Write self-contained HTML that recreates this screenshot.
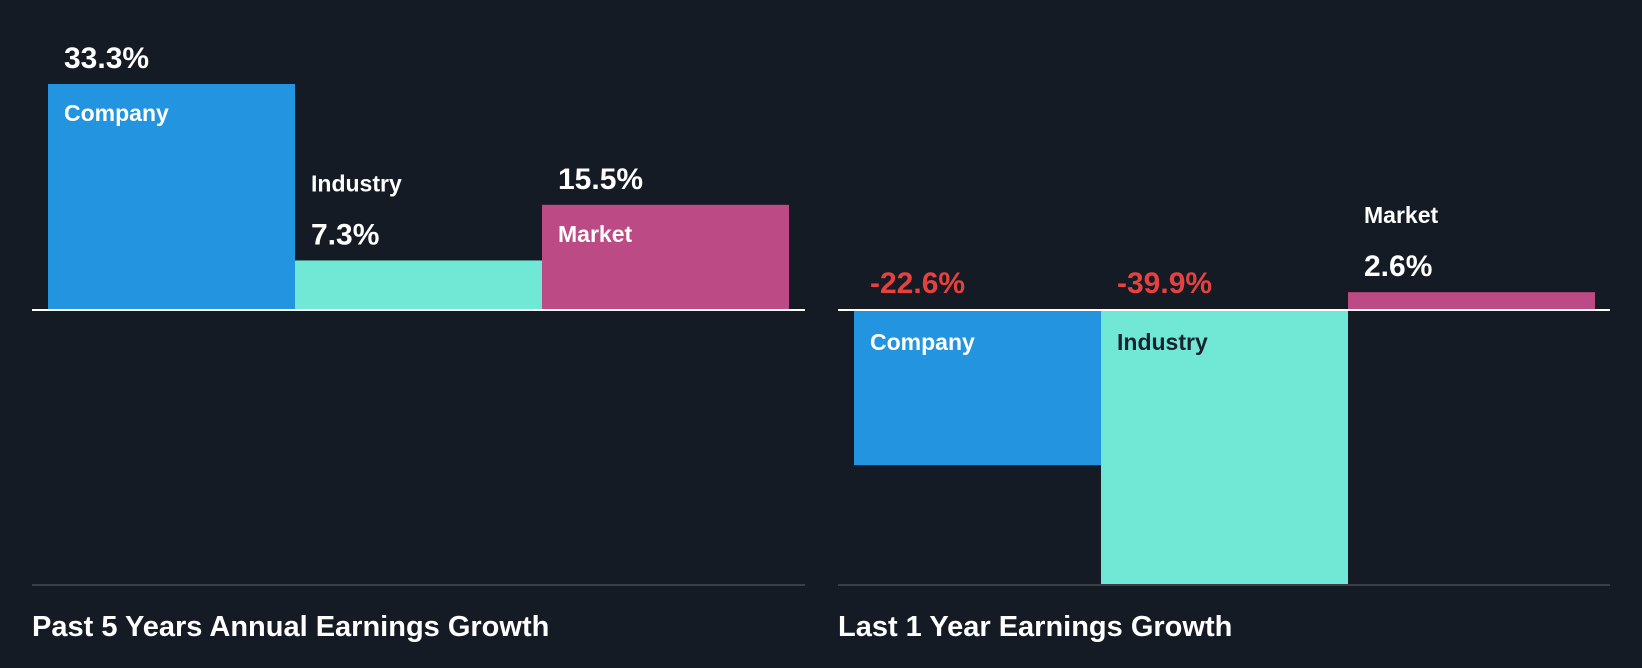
<!DOCTYPE html>
<html><head><meta charset="utf-8"><style>
html,body{margin:0;padding:0;background:#151b24;}
svg{display:block;font-family:"Liberation Sans",sans-serif;font-weight:bold;}
</style></head><body>
<svg id="chart" width="1642" height="668" viewBox="0 0 1642 668" xmlns="http://www.w3.org/2000/svg">
<rect width="1642" height="668" fill="#151b24"/>
<text x="32" y="636" fill="#ffffff" font-size="29">Past 5 Years Annual Earnings Growth</text>
<text x="838" y="636" fill="#ffffff" font-size="29">Last 1 Year Earnings Growth</text>
</svg>
<script>
const categories = ["Company", "Industry", "Market"];
const past5Values = [33.3, 7.3, 15.5];
const last1Values = [-22.6, -39.9, 2.6];
const colors = ["#2394df", "#71e7d6", "#bb4a85"];
const NS = "http://www.w3.org/2000/svg";
const svg = document.getElementById("chart");
function mk(tag, attrs){const e=document.createElementNS(NS,tag);for(const k in attrs)e.setAttribute(k,attrs[k]);svg.appendChild(e);return e;}
function drawPanel(values, x0, x1, barX0, barW, key){
  const zeroY = 310, bottomY = 584;
  const maxAbs = Math.max(...values.map(Math.abs));
  const span = Math.max(...values) > 0 && Math.min(...values) < 0 && Math.abs(Math.min(...values)) > Math.max(...values) ? (bottomY - zeroY) : (zeroY - 84);
  const yScale = v => zeroY - v * span / maxAbs;
  values.forEach((v, i) => {
    const x = barX0 + i * barW;
    const y = yScale(v);
    const r = mk("rect", {x: x, y: Math.min(y, zeroY), width: barW, height: Math.abs(zeroY - y), fill: colors[i]});
    
    
    const valTxt = (v > 0 ? "" : "") + v.toFixed(1) + "%";
    let valY, nameY, nameFill = "#ffffff";
    const h = Math.abs(zeroY - y);
    if (v >= 0) {
      valY = y - 16;
      if (h > 60) nameY = y + 37; else nameY = y - 69;
    } else {
      valY = zeroY - 17;
      nameY = zeroY + 40;
      if (i === 1) nameFill = "#1b222d";
    }
    const vt = mk("text", {x: x + 16, y: valY, fill: v < 0 ? "#e5413f" : "#ffffff", "font-size": 30});
    vt.textContent = valTxt;
    
    
    const nt = mk("text", {x: x + 16, y: nameY, fill: nameFill, "font-size": 23});
    nt.textContent = categories[i];
    
    
  });
  const zl = mk("line", {x1: x0, x2: x1, y1: zeroY, y2: zeroY, stroke: "#ffffff", "stroke-width": 2});
  
  
  const bl = mk("line", {x1: x0, x2: x1, y1: bottomY + 1, y2: bottomY + 1, stroke: "#3a3f47", "stroke-width": 2});
  
  
}
drawPanel(past5Values, 32, 805, 48, 247, "past5");
drawPanel(last1Values, 838, 1610, 854, 247, "last1");
</script>
</body></html>
